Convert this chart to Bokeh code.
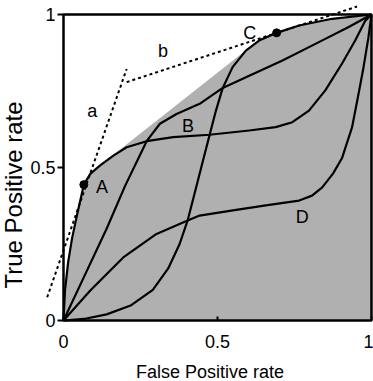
from bokeh.plotting import figure
from bokeh.models import Range1d, FixedTicker, ColumnDataSource
from bokeh.core.properties import value
from bokeh.embed import file_html
from bokeh.resources import INLINE

# ---- data ----
tick_values = [0, 0.5, 1]
tick_labels = ["0", "0.5", "1"]

a_curve_x = [0, 0.005, 0.015, 0.028, 0.045, 0.066, 0.087, 0.119, 0.162, 0.205, 0.27, 0.356,
             0.474, 0.603, 0.689, 0.743, 0.797, 0.85, 0.904, 0.947, 0.98, 1.0]
a_curve_y = [0, 0.1, 0.19, 0.27, 0.35, 0.444, 0.479, 0.507, 0.539, 0.566, 0.586, 0.599,
             0.607, 0.621, 0.632, 0.648, 0.686, 0.752, 0.839, 0.915, 0.98, 1.0]

b_curve_x = [0, 0.07, 0.14, 0.2, 0.27, 0.313, 0.367, 0.442, 0.517, 0.603, 0.711, 0.818, 0.926, 1.0]
b_curve_y = [0, 0.15, 0.3, 0.44, 0.586, 0.643, 0.675, 0.708, 0.76, 0.8, 0.85, 0.904, 0.959, 1.0]

c_curve_x = [0, 0.066, 0.14, 0.22, 0.29, 0.34, 0.377, 0.403, 0.431, 0.453, 0.474, 0.495, 0.517,
             0.549, 0.592, 0.635, 0.692, 0.765, 0.872, 1.0]
c_curve_y = [0, 0.005, 0.02, 0.05, 0.1, 0.17, 0.25, 0.327, 0.436, 0.523, 0.605, 0.686, 0.76,
             0.828, 0.882, 0.915, 0.94, 0.964, 0.986, 1.0]

d_curve_x = [0, 0.087, 0.194, 0.302, 0.403, 0.442, 0.55, 0.657, 0.765, 0.807, 0.84, 0.875,
             0.904, 0.937, 0.958, 0.974, 0.99, 1.0]
d_curve_y = [0, 0.098, 0.206, 0.283, 0.327, 0.343, 0.36, 0.376, 0.392, 0.408, 0.435, 0.48,
             0.53, 0.632, 0.741, 0.827, 0.925, 1.0]

hull_x = [0, 0.005, 0.015, 0.028, 0.045, 0.066, 0.087, 0.119, 0.62, 0.692, 0.765, 0.872, 1.0, 1.0]
hull_y = [0, 0.1, 0.19, 0.27, 0.35, 0.444, 0.479, 0.507, 0.905, 0.94, 0.964, 0.986, 1.0, 0.0]

iso_a_x = [-0.053, 0.205]
iso_a_y = [0.076, 0.822]
iso_b_x = [0.205, 0.953]
iso_b_y = [0.779, 1.026]

point_x = [0.066, 0.692]
point_y = [0.444, 0.94]

label_text = ["a", "b", "A", "B", "C", "D"]
label_x = [0.093, 0.323, 0.125, 0.404, 0.605, 0.775]
label_y = [0.686, 0.882, 0.435, 0.637, 0.939, 0.337]

FONT = "Liberation Sans"

# the frame fills the whole canvas; the unit square is drawn inside it
p = figure(width=373, height=381,
           x_range=Range1d(-63 / 308, 310 / 308), y_range=Range1d(-61 / 306, 320 / 306),
           output_backend="svg", toolbar_location=None,
           min_border_left=0, min_border_right=0, min_border_top=0, min_border_bottom=0)
p.grid.visible = False
p.outline_line_color = None
p.background_fill_color = "white"
p.border_fill_color = "white"

# shaded convex hull
p.patch(hull_x, hull_y, fill_color="#b0b0b0", line_color=None)

# curves
for xs, ys in [(a_curve_x, a_curve_y), (b_curve_x, b_curve_y),
               (c_curve_x, c_curve_y), (d_curve_x, d_curve_y)]:
    p.line(xs, ys, line_color="black", line_width=2.2, line_join="round")

# iso-performance lines
p.line(iso_a_x, iso_a_y, line_color="black", line_width=2, line_dash="3 3")
p.line(iso_b_x, iso_b_y, line_color="black", line_width=2, line_dash="3 3")

p.scatter(point_x, point_y, size=8, fill_color="black", line_color="black")

src = ColumnDataSource(dict(x=label_x, y=label_y, t=label_text))
p.text(x="x", y="y", text="t", source=src, text_font=value(FONT),
       text_font_size="18px", text_align="center", text_baseline="middle", text_color="black")

# frame box of the unit square
p.quad(left=tick_values[0], right=tick_values[-1], bottom=tick_values[0], top=tick_values[-1],
       fill_color=None, line_color="black", line_width=2.5)

for ax in (p.xaxis[0], p.yaxis[0]):
    ax.fixed_location = 0
    ax.ticker = FixedTicker(ticks=tick_values)
    ax.major_label_overrides = {v: t for v, t in zip(tick_values, tick_labels)}
    ax.minor_tick_line_color = None
    ax.axis_line_color = None
    ax.major_tick_line_width = 2
    ax.major_tick_line_color = "black"
    ax.major_label_text_font = FONT
    ax.major_label_text_font_size = "18px"
    ax.major_label_text_color = "black"
    ax.axis_label_text_font = FONT
    ax.axis_label_text_font_style = "normal"
    ax.axis_label_text_color = "black"

p.xaxis.bounds = (-0.05, 1.0)
p.xaxis.major_tick_in = 4
p.xaxis.major_tick_out = 0
p.xaxis.major_label_standoff = 14
p.xaxis.axis_label = "False Positive rate"
p.xaxis.axis_label_text_font_size = "18px"
p.xaxis.axis_label_standoff = 11

p.yaxis.bounds = (-0.18, 1.0)
p.yaxis.major_tick_in = 0
p.yaxis.major_tick_out = 6
p.yaxis.major_label_standoff = 2
p.yaxis.axis_label = "True Positive rate"
p.yaxis.axis_label_text_font_size = "24px"
p.yaxis.axis_label_standoff = 0

open("out.html", "w").write(file_html(p, INLINE))
